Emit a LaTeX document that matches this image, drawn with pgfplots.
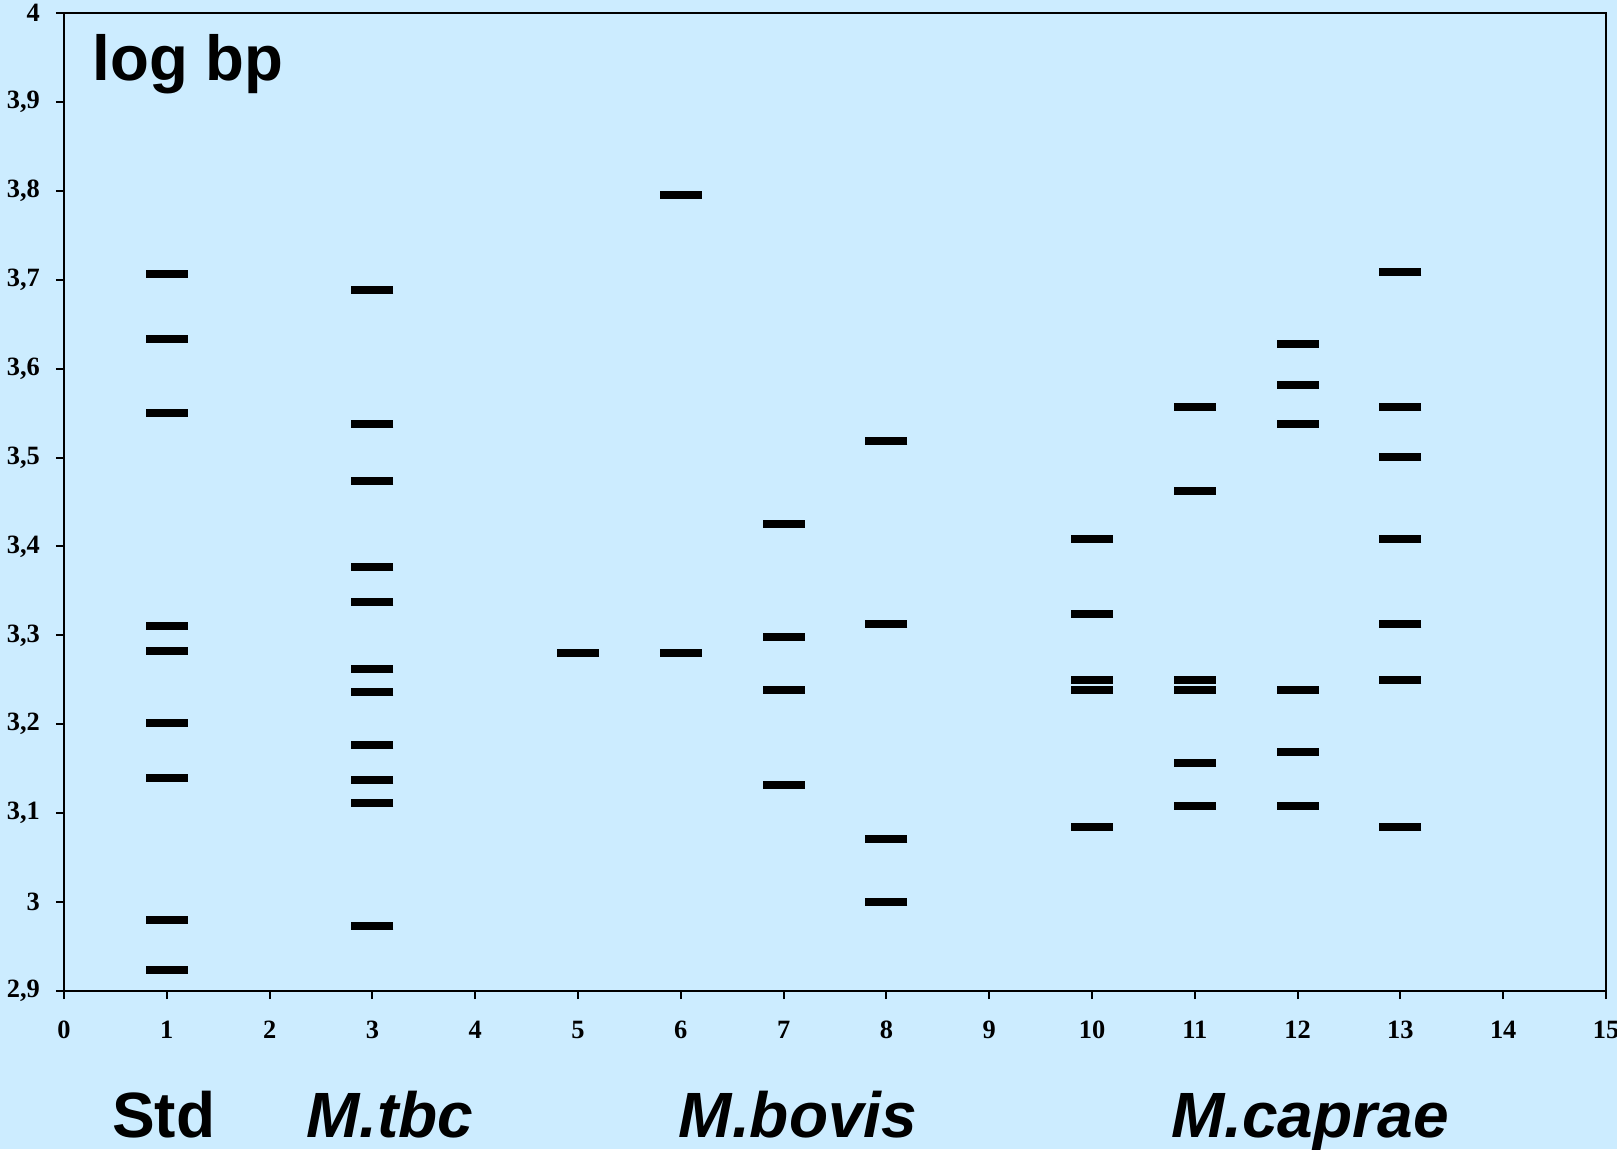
\documentclass[border=0pt]{standalone}
\usepackage{pgfplots}
\pgfplotsset{compat=1.18}
\usepackage{fontspec}
\setmainfont{Liberation Serif}
\newfontfamily\arial{Liberation Sans}
\definecolor{bg}{RGB}{204,236,255}
\pgfdeclarelayer{background}
\pgfsetlayers{background,main}
\tikzset{band/.style={black, only marks, mark=-, mark size=5.25pt, mark options={line width=2pt, solid, black}}}
\begin{document}
\begin{tikzpicture}
\begin{axis}[name=ax,
  scale only axis, width=385.5pt, height=244.5pt,
  xmin=0, xmax=15, ymin=2.9, ymax=4,
  xtick={0,1,...,15}, ytick={2.9,3,3.1,3.2,3.3,3.4,3.5,3.6,3.7,3.8,3.9,4},
  tick align=outside, xtick pos=left, ytick pos=left,
  major tick length=2pt,
  axis line style={line width=0.5pt, black},
  tick style={line width=0.5pt, black},
  /pgf/number format/use comma,
  /pgf/number format/assume math mode=true,
  ticklabel style={font=\fontsize{6.6}{7}\selectfont\bfseries},
  xticklabel style={yshift=-2pt},
  yticklabel style={xshift=-0.5pt},
  clip=false,
]
\addplot[band] coordinates {(1,3.707)(1,3.633)(1,3.550)(1,3.311)(1,3.282)(1,3.202)(1,3.140)(1,2.980)(1,2.924)};
\addplot[band] coordinates {(3,3.689)(3,3.538)(3,3.474)(3,3.377)(3,3.337)(3,3.262)(3,3.236)(3,3.177)(3,3.137)(3,3.112)(3,2.973)};
\addplot[band] coordinates {(5,3.280)};
\addplot[band] coordinates {(6,3.795)(6,3.280)};
\addplot[band] coordinates {(7,3.425)(7,3.298)(7,3.238)(7,3.132)};
\addplot[band] coordinates {(8,3.519)(8,3.313)(8,3.071)(8,3.000)};
\addplot[band] coordinates {(10,3.408)(10,3.324)(10,3.250)(10,3.238)(10,3.085)};
\addplot[band] coordinates {(11,3.557)(11,3.462)(11,3.250)(11,3.238)(11,3.156)(11,3.108)};
\addplot[band] coordinates {(12,3.628)(12,3.582)(12,3.538)(12,3.238)(12,3.169)(12,3.108)};
\addplot[band] coordinates {(13,3.709)(13,3.557)(13,3.501)(13,3.408)(13,3.313)(13,3.250)(13,3.085)};
\node[anchor=base west, inner sep=0pt, font=\arial\fontsize{15.9}{18}\selectfont\bfseries] at ([shift={(7pt,-16.75pt)}]rel axis cs:0,1) {log bp};
\node[anchor=base, inner sep=0pt, font=\arial\fontsize{16}{18}\selectfont\bfseries] at ([yshift=-36.5pt]axis cs:0.97,2.9) {Std};
\node[anchor=base, inner sep=0pt, font=\arial\fontsize{16}{18}\selectfont\bfseries\itshape] at ([yshift=-36.5pt]axis cs:3.17,2.9) {M.tbc};
\node[anchor=base, inner sep=0pt, font=\arial\fontsize{16}{18}\selectfont\bfseries\itshape] at ([yshift=-36.5pt]axis cs:7.14,2.9) {M.bovis};
\node[anchor=base, inner sep=0pt, font=\arial\fontsize{16}{18}\selectfont\bfseries\itshape] at ([yshift=-36.5pt]axis cs:12.12,2.9) {M.caprae};
\end{axis}
\begin{pgfonlayer}{background}
\fill[bg] ([shift={(-16pt,-39.5pt)}]ax.south west) rectangle ([shift={(2.75pt,3.25pt)}]ax.north east);
\end{pgfonlayer}
\pgfresetboundingbox
\useasboundingbox ([shift={(-16pt,-39.5pt)}]ax.south west) rectangle ([shift={(2.75pt,3.25pt)}]ax.north east);
\end{tikzpicture}
\end{document}
